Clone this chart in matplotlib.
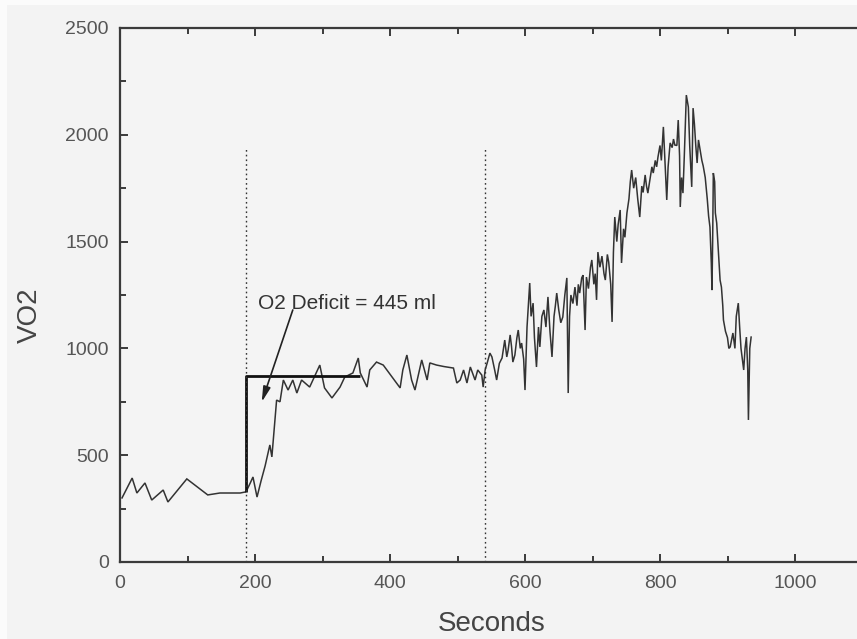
import matplotlib
matplotlib.use("Agg")
import matplotlib.pyplot as plt
from matplotlib.patches import Rectangle
from matplotlib.ticker import MultipleLocator

# Breath-by-breath oxygen uptake (ml/min) against time (s)
rest_t = [3, 18, 25, 37, 47, 64, 71, 99, 130, 148, 178, 186]
rest_vo2 = [300, 393, 323, 370, 290, 337, 281, 389, 314, 323, 323, 328]

steady_t = [188, 193, 197, 203, 209, 215, 222, 225, 232, 237, 242, 249, 256, 262,
            269, 281, 296, 303, 314, 326, 333, 345, 353, 356, 366, 370, 380, 390,
            403, 415, 419, 425, 432, 437, 447, 455, 459, 469, 480, 494, 499, 504,
            509, 514, 519, 526, 530, 536, 538, 541]
steady_vo2 = [337, 370, 398, 304, 380, 450, 548, 492, 758, 750, 852, 805, 852, 791,
              852, 819, 922, 815, 768, 819, 866, 885, 955, 885, 819, 899, 936, 922,
              866, 815, 899, 969, 852, 805, 946, 852, 932, 922, 915, 908, 838, 852,
              899, 838, 913, 852, 899, 875, 819, 900]

ramp_t = [544, 548, 551, 555, 558, 562, 566, 570, 573, 575, 578, 580, 582, 585,
          588, 590, 593, 595, 598, 600, 603, 605, 607, 609, 612, 614, 617, 620,
          622, 625, 628, 631, 634, 637, 640, 643, 645, 647, 650, 653, 656, 659,
          662, 664, 666, 668, 671, 674, 677, 679, 681, 684, 686, 689, 691, 694,
          697, 699, 702, 704, 706, 708, 711, 714, 717, 719, 722, 724, 727, 729,
          731, 733, 736, 738, 741, 743, 746, 748, 751, 754, 756, 758, 761, 764,
          767, 770, 773, 775, 778, 780, 782, 785, 788, 790, 793, 795, 797, 800,
          802, 805, 807, 810, 812, 815, 818, 820, 822, 825, 827, 829, 830, 832,
          834, 836, 839, 841, 842, 844, 847, 849, 851, 853, 855, 857, 860, 862,
          864, 867, 870, 872, 874, 876, 877, 878, 879, 881, 882, 884, 886, 888,
          889, 891, 893, 894, 897, 900, 902, 904, 906, 908, 911, 913, 916, 918,
          920, 922, 924, 926, 928, 930, 931, 933, 935]
ramp_vo2 = [932, 978, 960, 900, 852, 930, 955, 1039, 960, 992, 1063, 1010, 936, 969,
            1050, 1086, 1000, 1025, 950, 805, 1100, 1200, 1306, 1150, 1212, 1050, 913, 1100,
            1007, 1150, 1180, 1100, 1241, 1080, 960, 1150, 1200, 1259, 1180, 1120, 1147, 1250,
            1330, 791, 1150, 1250, 1210, 1287, 1200, 1300, 1259, 1330, 1343, 1086, 1334, 1280,
            1380, 1414, 1300, 1350, 1227, 1451, 1380, 1432, 1350, 1320, 1440, 1404, 1300, 1124,
            1450, 1615, 1500, 1580, 1648, 1400, 1560, 1520, 1634, 1700, 1780, 1835, 1750, 1800,
            1700, 1615, 1760, 1730, 1812, 1760, 1727, 1790, 1850, 1821, 1880, 1850, 1896, 1950,
            1880, 2037, 1900, 1695, 1850, 1962, 1940, 1980, 1952, 1950, 2069, 1900, 1662, 1800,
            1727, 1900, 2186, 2150, 2130, 1950, 1756, 2125, 2050, 1950, 1868, 1976, 1920, 1880,
            1854, 1800, 1700, 1620, 1568, 1400, 1273, 1500, 1821, 1780, 1634, 1587, 1480, 1380,
            1320, 1287, 1200, 1133, 1080, 1050, 1000, 1007, 1040, 1072, 1000, 1150, 1212, 1100,
            1000, 950, 899, 1000, 1053, 900, 665, 1000, 1053]

time_s = rest_t + steady_t + ramp_t
vo2 = rest_vo2 + steady_vo2 + ramp_vo2

# Square-wave demand used for the O2 deficit, and phase markers
demand_t = [186, 186, 356]
demand_vo2 = [328, 871, 871]
phase_t = [186, 540]
phase_top = 1935
deficit_ml = 445

x_ticks = [0, 200, 400, 600, 800, 1000]
y_ticks = [0, 500, 1000, 1500, 2000, 2500]

W, H = 857, 639
fig = plt.figure(figsize=(W / 100, H / 100), dpi=100, facecolor="#f3f3f3")
plt.rcParams["font.family"] = ["Liberation Sans", "DejaVu Sans"]

# pale scan margins along the top and left edges
fig.add_artist(Rectangle((0, 1 - 5 / H), 1, 5 / H, transform=fig.transFigure,
                         facecolor="#fbfbfb", edgecolor="none"))
fig.add_artist(Rectangle((0, 0), 7 / W, 1, transform=fig.transFigure,
                         facecolor="#fbfbfb", edgecolor="none"))

ax = fig.add_axes([120 / W, (H - 562) / H, 742.5 / W, 534 / H])
ax.set_facecolor("#f4f4f4")
ax.set_xlim(0, 1100)
ax.set_ylim(0, 2500)

ax.plot(time_s, vo2, color="#333333", lw=1.1, solid_joinstyle="miter")
ax.plot(demand_t, demand_vo2, color="#111111", lw=2.0, solid_capstyle="butt")
for t in phase_t:
    ax.plot([t, t], [0, phase_top], color="#333333", lw=1.0, linestyle=(0, (1.2, 2.2)))

ax.text(204, 1208, f"O2 Deficit = {deficit_ml} ml", ha="left", va="center",
        fontsize=15, color="#333333")
ax.annotate("", xy=(210, 749), xytext=(256, 1180),
            arrowprops=dict(arrowstyle="-|>,head_length=0.9,head_width=0.22",
                            lw=1.2, color="#222222", shrinkA=0, shrinkB=0))

for side in ["left", "bottom", "top", "right"]:
    ax.spines[side].set_color("#3a3a3a")
    ax.spines[side].set_linewidth(1.6)

ax.set_xticks(x_ticks)
ax.set_yticks(y_ticks)
ax.xaxis.set_minor_locator(MultipleLocator(100))
ax.yaxis.set_minor_locator(MultipleLocator(250))
ax.tick_params(which="both", direction="in", top=True, right=False,
               color="#3a3a3a", width=1.4)
ax.tick_params(which="major", length=6, labelsize=14, labelcolor="#555555")
ax.tick_params(which="minor", length=4)
ax.tick_params(axis="y", which="major", pad=8)
ax.tick_params(axis="x", which="major", pad=9)

ax.set_xlabel("Seconds", fontsize=20, color="#444444")
ax.xaxis.set_label_coords(0.5, -0.092)
ax.set_ylabel("VO2", fontsize=20, color="#444444")
ax.yaxis.set_label_coords(-0.104, 0.4625)

fig.savefig("out.png", dpi=100, facecolor=fig.get_facecolor())
